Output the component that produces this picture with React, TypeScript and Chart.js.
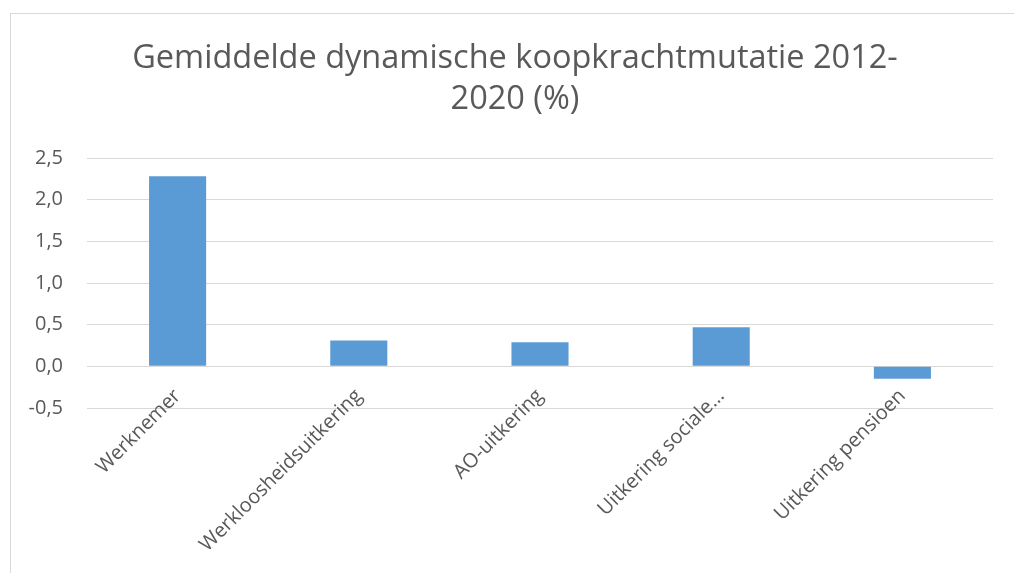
import React, { useEffect, useRef } from "react";
import { Chart, registerables } from "chart.js";

Chart.register(...registerables);

const categories = [
  "Werknemer",
  "Werkloosheidsuitkering",
  "AO-uitkering",
  "Uitkering sociale…",
  "Uitkering pensioen",
];
const values = [2.28, 0.31, 0.29, 0.47, -0.15];
const titleLines = ["Gemiddelde dynamische koopkrachtmutatie 2012-", "2020 (%)"];
const yMin = -0.5;
const yMax = 2.5;
const yStep = 0.5;

const TEXT = "#595959";
const GRID = "#D9D9D9";
const BAR = "#5B9BD5";
const FONT = "'Open Sans', sans-serif";

const titlePlugin = {
  id: "offsetTitle",
  afterDraw(chart: any) {
    const ctx = chart.ctx;
    ctx.save();
    ctx.fillStyle = TEXT;
    ctx.font = `normal 32.5px ${FONT}`;
    ctx.textAlign = "center";
    ctx.textBaseline = "middle";
    const cx = 515;
    titleLines.forEach((line, i) => {
      ctx.fillText(line, cx, 59 + i * 41);
    });
    ctx.restore();
  },
};

export default function App() {
  const ref = useRef<HTMLCanvasElement>(null);

  useEffect(() => {
    const chart = new Chart(ref.current as HTMLCanvasElement, {
      type: "bar",
      data: {
        labels: categories,
        datasets: [
          {
            data: values,
            backgroundColor: BAR,
            borderWidth: 0,
            barPercentage: 1,
            categoryPercentage: 0.315,
          },
        ],
      },
      options: {
        animation: false,
        responsive: false,
        maintainAspectRatio: false,
        layout: { padding: { left: 0, right: 21, top: 158, bottom: 165 } },
        plugins: {
          legend: { display: false },
          tooltip: { enabled: false },
          title: { display: false },
        },
        scales: {
          x: {
            position: { y: 0 } as any,
            grid: { display: false, drawTicks: false },
            border: { display: false },
            ticks: {
              autoSkip: false,
              maxRotation: 45,
              minRotation: 45,
              padding: 18,
              color: TEXT,
              font: { family: FONT, size: 20 },
            },
          },
          y: {
            min: yMin,
            max: yMax,
            afterFit: (s: any) => {
              s.width = 87;
            },
            grid: { color: GRID, lineWidth: 1, drawTicks: false },
            border: { display: false },
            ticks: {
              stepSize: yStep,
              padding: 24,
              color: TEXT,
              font: { family: FONT, size: 20 },
              callback: (v: any) => Number(v).toFixed(1).replace(".", ","),
            },
          },
        },
      },
      plugins: [titlePlugin],
    });
    return () => chart.destroy();
  }, []);

  return (
    <div
      style={{
        position: "fixed",
        left: 0,
        top: 0,
        width: 1014,
        height: 573,
        overflow: "hidden",
        background: "#fff",
      }}
    >
      <div
        style={{
          position: "absolute",
          left: 10,
          top: 13,
          width: 1020,
          height: 600,
          border: `1px solid ${GRID}`,
        }}
      />
      <canvas
        ref={ref}
        width={1014}
        height={573}
        style={{ position: "absolute", left: 0, top: 0, display: "block" }}
      />
    </div>
  );
}
